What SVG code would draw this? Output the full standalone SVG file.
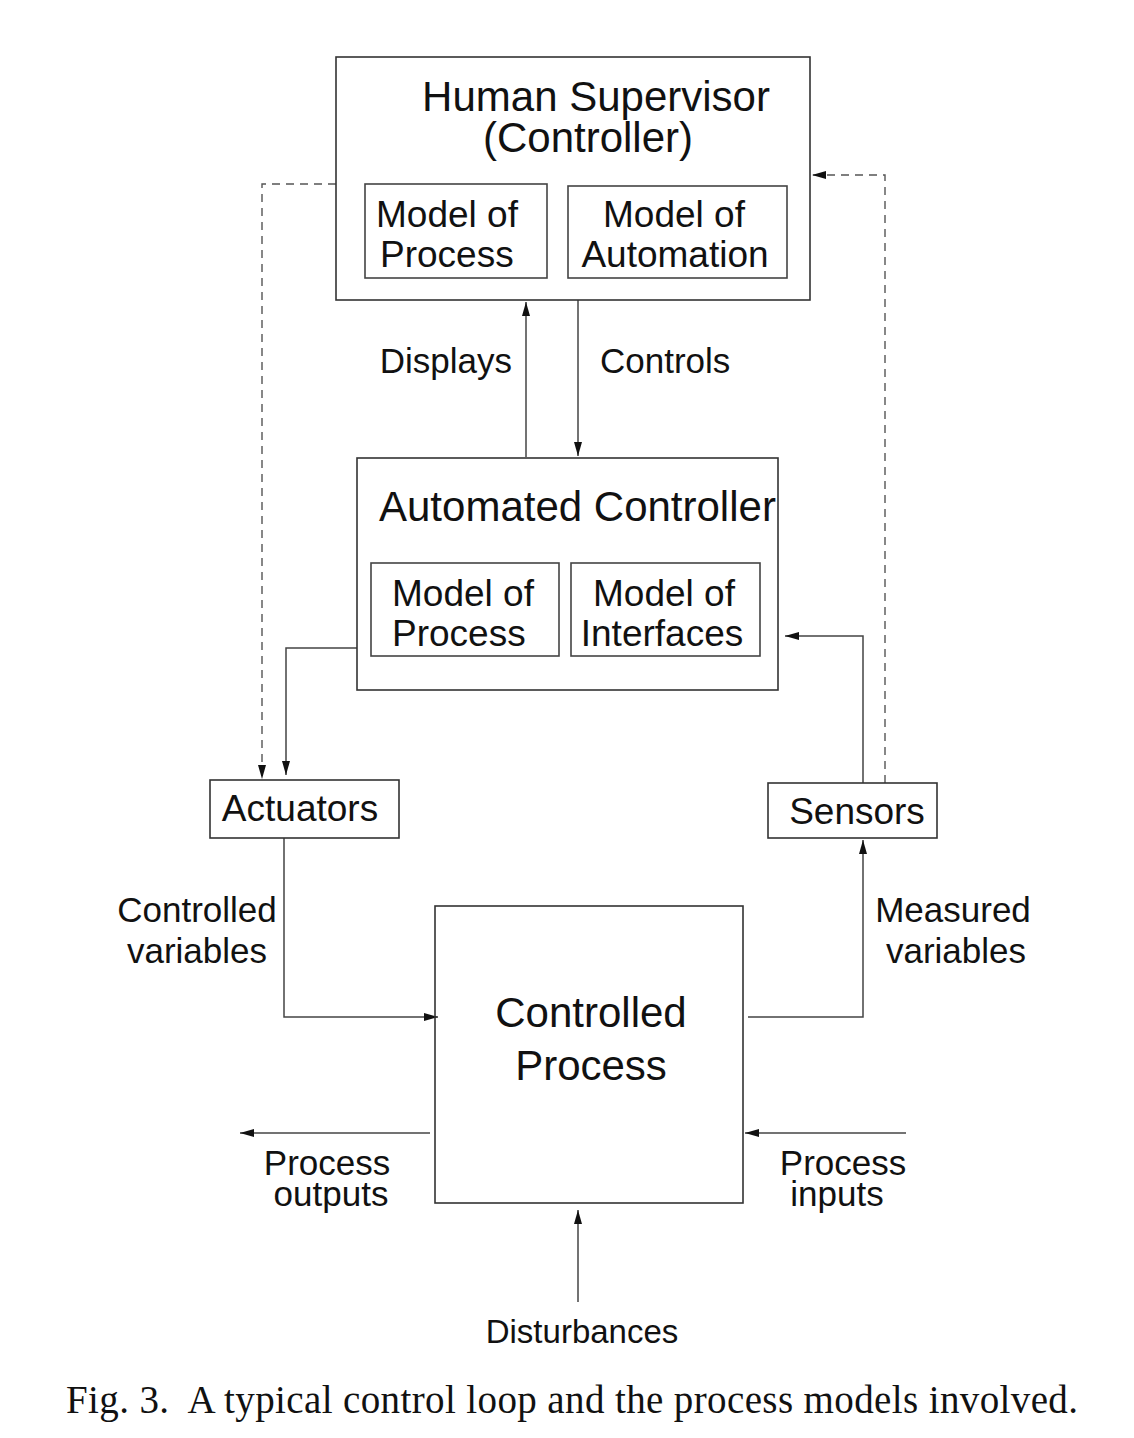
<svg xmlns="http://www.w3.org/2000/svg" width="1134" height="1438" viewBox="0 0 1134 1438">
<style>
.box{fill:none;stroke:#333;stroke-width:1.6}
.inner{fill:none;stroke:#444;stroke-width:1.6}
.ln{fill:none;stroke:#444;stroke-width:1.5}
.dash{fill:none;stroke:#555;stroke-width:1.4;stroke-dasharray:8 6}
text{font-family:"Liberation Sans",Arial,sans-serif;fill:#111}
.t42{font-size:42px}
.t37{font-size:37px}
.t35{font-size:35px}
.t33{font-size:33px}
.mid{text-anchor:middle}
.cap{font-family:"Liberation Serif","Times New Roman",serif;font-size:39px}
</style>
<defs>
<marker id="ah" viewBox="0 0 14 8" refX="14" refY="4" markerWidth="14" markerHeight="8" markerUnits="userSpaceOnUse" orient="auto">
<path d="M0,0 L14,4 L0,8 Z" fill="#111"/>
</marker>
</defs>
<rect width="1134" height="1438" fill="#fff"/>

<g id="connectors">
<line class="ln" x1="526" y1="457" x2="526" y2="302" marker-end="url(#ah)"/>
<line class="ln" x1="578" y1="300" x2="578" y2="456" marker-end="url(#ah)"/>
<polyline class="ln" points="357,648 286,648 286,775" marker-end="url(#ah)"/>
<polyline class="ln" points="863,783 863,636 785,636" marker-end="url(#ah)"/>
<polyline class="dash" points="336,184 262,184 262,779" marker-end="url(#ah)"/>
<polyline class="dash" points="885,783 885,175 812,175" marker-end="url(#ah)"/>
<polyline class="ln" points="284,838 284,1017 438,1017" marker-end="url(#ah)"/>
<polyline class="ln" points="748,1017 863,1017 863,840" marker-end="url(#ah)"/>
<line class="ln" x1="430" y1="1133" x2="240" y2="1133" marker-end="url(#ah)"/>
<line class="ln" x1="906" y1="1133" x2="745" y2="1133" marker-end="url(#ah)"/>
<line class="ln" x1="578" y1="1302" x2="578" y2="1210" marker-end="url(#ah)"/>
<text class="t35" x="512" y="373" text-anchor="end">Displays</text>
<text class="t35" x="600" y="373">Controls</text>
<text class="t35 mid" x="197" y="922">Controlled</text>
<text class="t35 mid" x="197" y="963">variables</text>
<text class="t35 mid" x="953" y="922">Measured</text>
<text class="t35 mid" x="956" y="963">variables</text>
<text class="t35 mid" x="327" y="1175">Process</text>
<text class="t35 mid" x="331" y="1206">outputs</text>
<text class="t35 mid" x="843" y="1175">Process</text>
<text class="t35 mid" x="837" y="1206">inputs</text>
<text class="t33 mid" x="582" y="1343">Disturbances</text>
</g>

<g id="human-supervisor">
<rect class="box" x="336" y="57" width="474" height="243"/>
<text class="t42 mid" x="596" y="111">Human Supervisor</text>
<text class="t42 mid" x="588" y="152">(Controller)</text>
</g>
<g id="hs-model-process">
<rect class="inner" x="365" y="184" width="182" height="94"/>
<text class="t37" x="376" y="227">Model of</text>
<text class="t37" x="380" y="267">Process</text>
</g>
<g id="hs-model-automation">
<rect class="inner" x="568" y="186" width="219" height="92"/>
<text class="t37 mid" x="674" y="227">Model of</text>
<text class="t37 mid" x="675" y="267">Automation</text>
</g>

<g id="automated-controller">
<rect class="box" x="357" y="458" width="421" height="232"/>
<text class="t42" x="379" y="521">Automated Controller</text>
</g>
<g id="ac-model-process">
<rect class="inner" x="371" y="563" width="188" height="93"/>
<text class="t37" x="392" y="606">Model of</text>
<text class="t37" x="392" y="646">Process</text>
</g>
<g id="ac-model-interfaces">
<rect class="inner" x="571" y="563" width="189" height="93"/>
<text class="t37 mid" x="664" y="606">Model of</text>
<text class="t37 mid" x="662" y="646">Interfaces</text>
</g>

<g id="actuators">
<rect class="box" x="210" y="780" width="189" height="58"/>
<text class="t37 mid" x="300" y="821">Actuators</text>
</g>
<g id="sensors">
<rect class="box" x="768" y="783" width="169" height="55"/>
<text class="t37 mid" x="857" y="824">Sensors</text>
</g>

<g id="controlled-process">
<rect class="box" x="435" y="906" width="308" height="297"/>
<text class="t42 mid" x="591" y="1027">Controlled</text>
<text class="t42 mid" x="591" y="1080">Process</text>
</g>

<text class="cap" x="66" y="1413" xml:space="preserve" textLength="1012" lengthAdjust="spacing">Fig. 3.  A typical control loop and the process models involved.</text>
</svg>
